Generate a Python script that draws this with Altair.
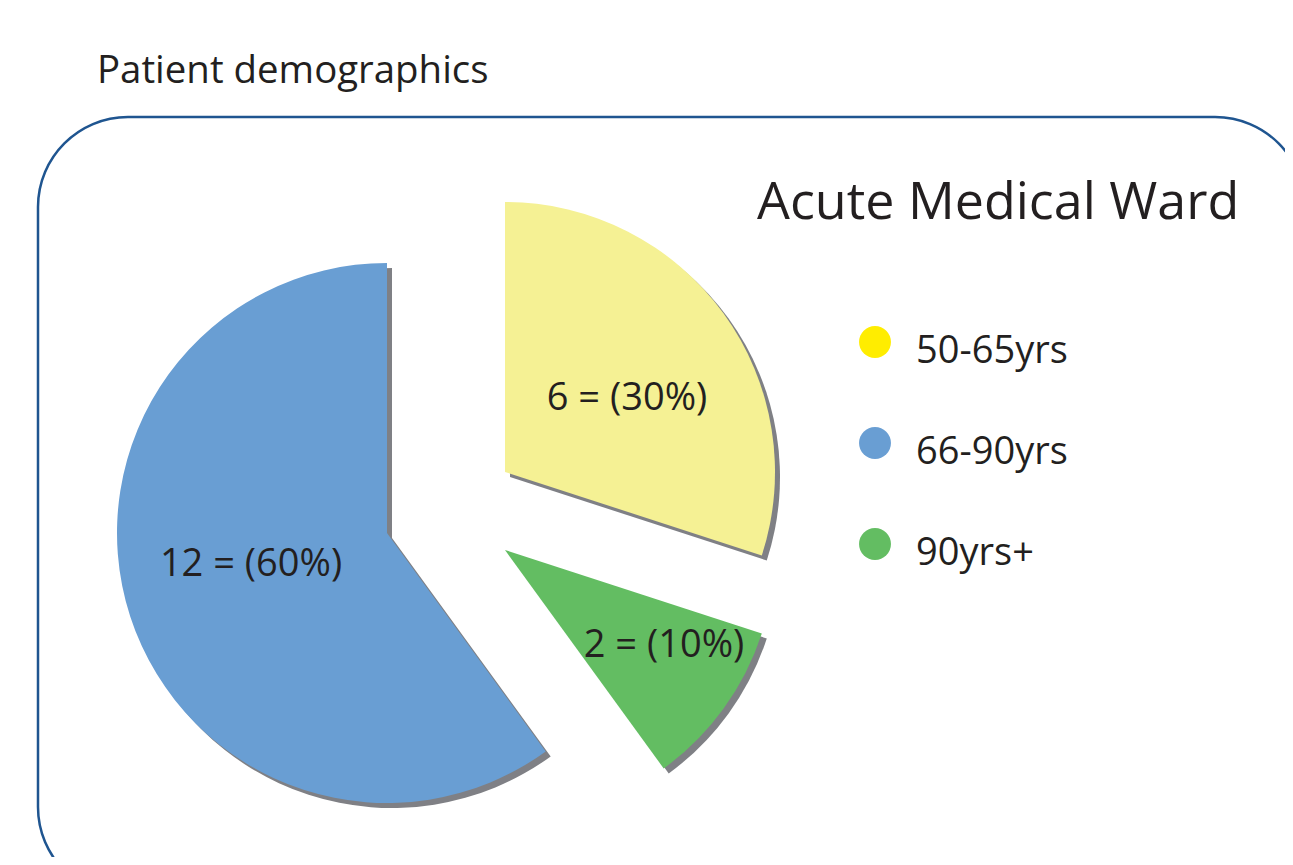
import altair as alt
import pandas as pd
import numpy as np

# ---------------- data ----------------
# pie order, clockwise from 12 o'clock
categories = ["50-65yrs", "90yrs+", "66-90yrs"]
counts = [6, 2, 12]
legend_order = ["50-65yrs", "66-90yrs", "90yrs+"]
slice_colors = ["#F5F194", "#63BD62", "#699ED3"]      # same order as categories
legend_colors = ["#FFED00", "#699ED3", "#63BD62"]     # same order as legend_order
chart_title = "Patient demographics"
ward_title = "Acute Medical Ward"

# ---------------- layout / style ----------------
W, H = 1277, 849
R = 270
SHADOW = 5
FONT = "Open Sans"
TXT = "#231F20"
centers = {"50-65yrs": (497, 464), "90yrs+": (497, 542), "66-90yrs": (379, 525)}
label_pos = {"50-65yrs": (619, 402), "66-90yrs": (243, 568), "90yrs+": (656, 649)}

total = sum(counts)
df = pd.DataFrame({"category": categories, "count": counts, "color": slice_colors})
df["end"] = np.cumsum(df["count"])
df["start"] = df["end"] - df["count"]

theta_scale = alt.Scale(domain=[0, total], range=[0, 2 * np.pi])

base = alt.Chart(df)

shadows = []
slices = []
labels = []
for cat, col in zip(categories, slice_colors):
    cx, cy = centers[cat]
    f = base.transform_filter(alt.datum.category == cat)
    shadows.append(
        f.mark_arc(radius=R, color="#7F8085").encode(
            theta=alt.Theta("start:Q", scale=theta_scale),
            theta2="end:Q",
            x=alt.value(cx + SHADOW),
            y=alt.value(cy + SHADOW),
        )
    )
    slices.append(
        f.mark_arc(radius=R, color=col).encode(
            theta=alt.Theta("start:Q", scale=theta_scale),
            theta2="end:Q",
            x=alt.value(cx),
            y=alt.value(cy),
        )
    )
    lx, ly = label_pos[cat]
    labels.append(
        f.transform_calculate(
            label="datum.count + ' = (' + format(datum.count / " + str(total) + ", '.0%') + ')'"
        )
        .mark_text(font=FONT, fontSize=38, color=TXT, align="center", baseline="alphabetic")
        .encode(text="label:N", x=alt.value(lx), y=alt.value(ly))
    )

# legend drawn manually
leg_df = pd.DataFrame({"category": legend_order, "lcolor": legend_colors})
leg_y = alt.Y(
    "category:N",
    scale=alt.Scale(type="point", domain=legend_order, range=[334, 536], padding=0),
    axis=None,
)
legend_dots = alt.Chart(leg_df).mark_circle(size=1018, opacity=1).encode(
    x=alt.value(867),
    y=leg_y,
    color=alt.Color(
        "category:N",
        scale=alt.Scale(domain=legend_order, range=legend_colors),
        legend=None,
    ),
)
legend_text = alt.Chart(leg_df).mark_text(
    font=FONT, fontSize=38, color=TXT, align="left", baseline="alphabetic", dy=21
).encode(x=alt.value(908), y=leg_y, text="category:N")

one = alt.Chart(pd.DataFrame({"t": [chart_title], "w": [ward_title]}))
title_text = one.mark_text(
    font=FONT, fontSize=38.4, color=TXT, align="left", baseline="alphabetic"
).encode(text="t:N", x=alt.value(89), y=alt.value(75))
ward_text = one.mark_text(
    font=FONT, fontSize=52, color=TXT, align="left", baseline="alphabetic"
).encode(text="w:N", x=alt.value(749), y=alt.value(211))

border = one.mark_rect(
    cornerRadius=90, fillOpacity=0, stroke="#1F5590", strokeWidth=2.5
).encode(x=alt.value(30), x2=alt.value(1297), y=alt.value(109), y2=alt.value(889))

chart = alt.layer(
    border, *shadows, *slices, *labels, legend_dots, legend_text, title_text, ward_text
).properties(
    width=W, height=H, autosize=alt.AutoSizeParams(type="none"), padding=0
).configure_view(strokeWidth=0)

chart.save("out.html", embed_options={"renderer": "svg", "actions": False})
